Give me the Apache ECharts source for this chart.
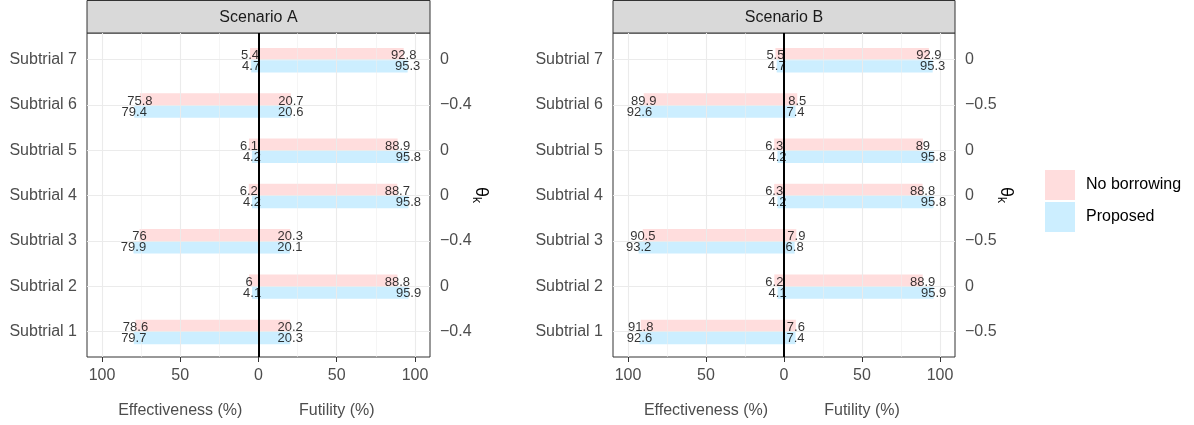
<!DOCTYPE html>
<html>
<head>
<meta charset="utf-8">
<script src="https://cdn.jsdelivr.net/npm/echarts@6/dist/echarts.min.js"></script>
<style>html,body{margin:0;padding:0;background:#fff;}#c{width:1194px;height:425px;}</style>
</head>
<body>
<div id="c"></div>
<script>
// ---- data ----
const categories = ['Subtrial 1','Subtrial 2','Subtrial 3','Subtrial 4','Subtrial 5','Subtrial 6','Subtrial 7'];
const scenarioNames = ['Scenario A','Scenario B'];
const thetaA = [-0.4, 0, -0.4, 0, 0, -0.4, 0];
const thetaB = [-0.5, 0, -0.5, 0, 0, -0.5, 0];
const effNB_A = [78.6, 6, 76, 6.2, 6.1, 75.8, 5.4];
const futNB_A = [20.2, 88.8, 20.3, 88.7, 88.9, 20.7, 92.8];
const effP_A  = [79.7, 4.1, 79.9, 4.2, 4.2, 79.4, 4.7];
const futP_A  = [20.3, 95.9, 20.1, 95.8, 95.8, 20.6, 95.3];
const effNB_B = [91.8, 6.2, 90.5, 6.3, 6.3, 89.9, 5.5];
const futNB_B = [7.6, 88.9, 7.9, 88.8, 89, 8.5, 92.9];
const effP_B  = [92.6, 4.1, 93.2, 4.2, 4.2, 92.6, 4.7];
const futP_B  = [7.4, 95.9, 6.8, 95.8, 95.8, 7.4, 95.3];
const xTicks = [-100, -50, 0, 50, 100];
const xMinor = [-75, -25, 25, 75];
const xTitles = ['Effectiveness (%)', 'Futility (%)'];
const seriesNames = ['No borrowing', 'Proposed'];

// ---- style ----
const PINK = '#FFDDDD', BLUE = '#CCEEFF';
const FONT = 'Liberation Sans';
const XLIM = 109.6;
const YMIN = 0.435, YMAX = 7.59;
const BAR_UNITS = 0.27;
const grids = [
  {left: 87, top: 33, width: 343, height: 324},
  {left: 613, top: 33, width: 342, height: 324}
];
const catPos = categories.map((c, i) => i + 1);
const fmtTheta = v => v === 0 ? '0' : (v < 0 ? '\u2212' : '') + Math.abs(v);

const chart = echarts.init(document.getElementById('c'), null, {renderer: 'canvas'});

const xAxis = [], yAxis = [], series = [], graphic = [];
const panels = [
  {theta: thetaA, effNB: effNB_A, futNB: futNB_A, effP: effP_A, futP: futP_A},
  {theta: thetaB, effNB: effNB_B, futNB: futNB_B, effP: effP_B, futP: futP_B}
];

function barRenderer(color, dir) {
  return function (params, api) {
    const v = api.value(0), c = api.value(1);
    const p0 = api.coord([0, c]), p1 = api.coord([v, c]);
    const h = api.size([0, BAR_UNITS])[1];
    const y = dir < 0 ? p0[1] - h + 0.5 : p0[1] + 0.5;
    return {type: 'rect',
      shape: {x: Math.min(p0[0], p1[0]), y: y, width: Math.abs(p1[0] - p0[0]), height: h},
      style: {fill: color}};
  };
}

panels.forEach((p, k) => {
  const g = grids[k];
  xAxis.push({
    gridIndex: k, type: 'value', min: -XLIM, max: XLIM,
    axisLine: {show: false},
    axisTick: {show: true, customValues: xTicks, length: 5, lineStyle: {color: '#333', width: 1}},
    axisLabel: {customValues: xTicks, formatter: v => String(Math.abs(v)), margin: 11,
      fontFamily: FONT, fontSize: 16, color: '#4D4D4D'},
    splitLine: {show: false}
  });
  xAxis.push({
    gridIndex: k, type: 'value', min: -XLIM, max: XLIM, position: 'bottom', offset: 0,
    axisLine: {show: false}, axisTick: {show: false}, splitLine: {show: false},
    axisLabel: {customValues: [-50, 50], formatter: v => v < 0 ? xTitles[0] : xTitles[1], margin: 46,
      fontFamily: FONT, fontSize: 16, color: '#4D4D4D'}
  });
  yAxis.push({
    gridIndex: k, type: 'value', min: YMIN, max: YMAX, position: 'left',
    axisLine: {show: false},
    axisTick: {show: true, customValues: catPos, length: 5, lineStyle: {color: '#333', width: 1}},
    axisLabel: {customValues: catPos, formatter: v => categories[Math.round(v) - 1], margin: 10,
      padding: [5, 0, 0, 0], fontFamily: FONT, fontSize: 16, color: '#4D4D4D'},
    splitLine: {show: false}
  });
  yAxis.push({
    gridIndex: k, type: 'value', min: YMIN, max: YMAX, position: 'right',
    axisLine: {show: false},
    axisTick: {show: true, customValues: catPos, length: 5, lineStyle: {color: '#333', width: 1}},
    axisLabel: {customValues: catPos, formatter: v => fmtTheta(p.theta[Math.round(v) - 1]), margin: 10,
      padding: [5, 0, 0, 0], fontFamily: FONT, fontSize: 16, color: '#4D4D4D'},
    splitLine: {show: false},
    name: '{t|\u03B8}{k|k}', nameLocation: 'middle', nameRotate: -90, nameGap: 40, nameMoveOverlap: false,
    nameTextStyle: {fontFamily: FONT, fontSize: 18, color: '#000',
      rich: {t: {fontFamily: FONT, fontSize: 18, color: '#000'},
             k: {fontFamily: FONT, fontSize: 12, color: '#000', verticalAlign: 'bottom', padding: [10, 0, 0, 0]}}}
  });
  const xi = 2 * k, yi = 2 * k;
  // gridlines
  const gl = [];
  xTicks.filter(v => v !== 0).forEach(v => gl.push({xAxis: v, lineStyle: {color: '#EBEBEB', width: 1.1, type: 'solid'}}));
  xMinor.forEach(v => gl.push({xAxis: v, lineStyle: {color: '#EFEFEF', width: 0.6, type: 'solid'}}));
  catPos.forEach(c => gl.push({yAxis: c, lineStyle: {color: '#EBEBEB', width: 1.1, type: 'solid'}}));
  series.push({
    type: 'scatter', xAxisIndex: xi, yAxisIndex: yi, data: [], z: 1, silent: true,
    markLine: {symbol: 'none', silent: true, animation: false, label: {show: false}, data: gl}
  });
  // bars
  const mk = (name, eff, fut, color, dir) => ({
    type: 'custom', name: name, xAxisIndex: xi, yAxisIndex: yi, z: 2, silent: true, animation: false,
    itemStyle: {color: color}, encode: {x: 0, y: 1},
    data: eff.map((v, i) => [-v, i + 1]).concat(fut.map((v, i) => [v, i + 1])),
    renderItem: barRenderer(color, dir)
  });
  series.push(mk(seriesNames[0], p.effNB, p.futNB, PINK, -1));
  series.push(mk(seriesNames[1], p.effP, p.futP, BLUE, 1));
  // zero line
  series.push({
    type: 'scatter', xAxisIndex: xi, yAxisIndex: yi, data: [], z: 4, silent: true,
    markLine: {symbol: 'none', silent: true, animation: false, label: {show: false},
      data: [{xAxis: 0, lineStyle: {color: '#000', width: 2, type: 'solid'}}]}
  });
  // labels
  const lab = (arr, sign, dy) => ({
    type: 'scatter', xAxisIndex: xi, yAxisIndex: yi, symbolSize: 0, z: 5, silent: true, animation: false,
    data: arr.map((v, i) => [sign * v, i + 1]),
    label: {show: true, position: 'inside', offset: [0, dy], fontFamily: FONT, fontSize: 13, color: '#000',
      formatter: q => String(Math.abs(q.value[0]))}
  });
  series.push(lab(p.effNB, -1, -4));
  series.push(lab(p.futNB, 1, -4));
  series.push(lab(p.effP, -1, 7));
  series.push(lab(p.futP, 1, 7));
  // strip
  graphic.push({type: 'rect', shape: {x: g.left, y: 0.5, width: g.width, height: g.top - 0.5},
    style: {fill: '#D9D9D9', stroke: '#333', lineWidth: 1}, silent: true});
  graphic.push({type: 'text', x: g.left + g.width / 2, y: 17.5,
    style: {text: scenarioNames[k], fill: '#1A1A1A', font: '16px "' + FONT + '"', textAlign: 'center', textVerticalAlign: 'middle'}, silent: true});
});

chart.setOption({
  animation: false,
  backgroundColor: '#fff',
  grid: grids.map(g => Object.assign({show: true, borderColor: '#333', borderWidth: 1, backgroundColor: '#fff', containLabel: false}, g)),
  xAxis, yAxis, series, graphic,
  legend: {
    data: seriesNames, orient: 'vertical', left: 1045, top: 170, padding: 0, icon: 'rect',
    itemWidth: 30, itemHeight: 30, itemGap: 2, selectedMode: false,
    textStyle: {fontFamily: FONT, fontSize: 16, color: '#000', padding: [0, 0, 0, 6]}
  }
});
</script>
</body>
</html>
